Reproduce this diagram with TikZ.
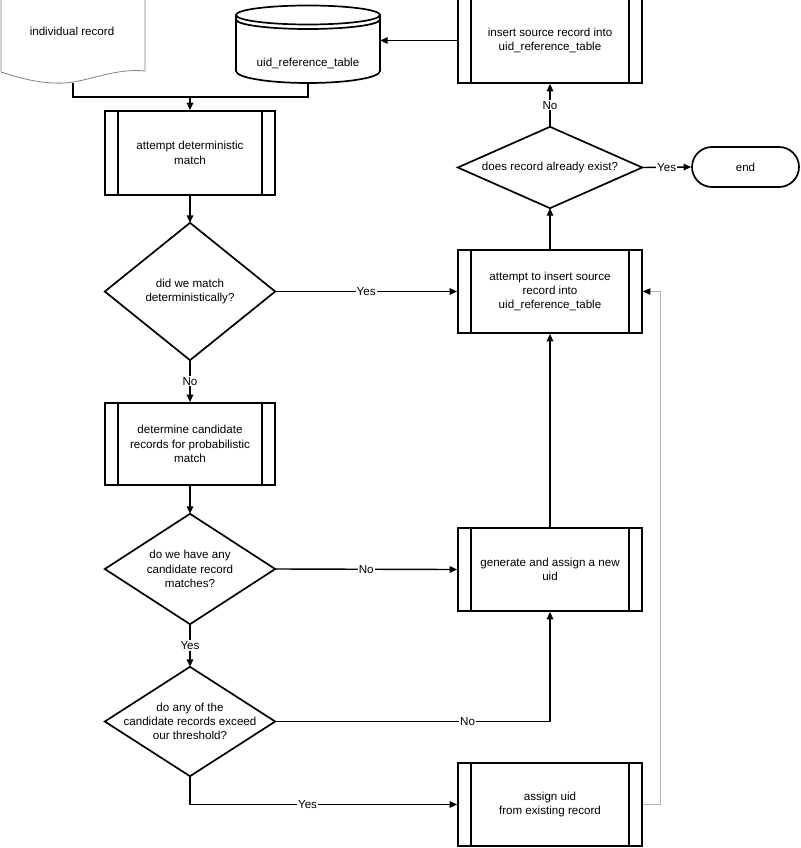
\documentclass[tikz,border=0pt]{standalone}
\usepackage{fontspec}
\setmainfont{Liberation Sans}
\usetikzlibrary{arrows.meta}
\begin{document}
\begin{tikzpicture}[x=1pt,y=-1pt,
  txt/.style={font=\fontsize{11.6}{14.3}\selectfont, align=center},
  shp/.style={line width=1.7pt},
  proc/.style={txt, draw, line width=1.7pt, rectangle, inner sep=0pt,
    minimum width=#1, minimum height=83pt,
    path picture={
      \draw[line width=1.6pt] ([xshift=13pt]path picture bounding box.south west) -- ([xshift=13pt]path picture bounding box.north west);
      \draw[line width=1.6pt] ([xshift=-13pt]path picture bounding box.south east) -- ([xshift=-13pt]path picture bounding box.north east);}},
  dia/.style 2 args={txt, rectangle, inner sep=0pt, minimum width=#1, minimum height=#2},
  arr/.style={line width=1.4pt, -{Triangle[length=7.5pt,width=6.5pt]}},
  lnk/.style={line width=1.4pt},
  lab/.style={txt, fill=white, inner sep=1pt}
]
\useasboundingbox (0,0) rectangle (800,848);
\clip (0,0) rectangle (800,848);

% document shape
\draw[gray, line width=0.8pt] (1,-5) -- (1,72) .. controls (25,80) and (45,84) .. (65,83) .. controls (90,81) and (115,68) .. (145,71) -- (145,-5);
\node[txt] (doc) at (72,31) {individual record};
\coordinate (docb) at (73,82.6);

% cylinder
\node[rectangle, inner sep=0pt, minimum width=144pt, minimum height=78pt] (cyl) at (308,44) {};
\draw[shp] (236,15) -- (236,71) arc[start angle=180, end angle=0, x radius=72, y radius=12] -- (380,15);
\draw[shp] (308,15) ellipse [x radius=72, y radius=9.5];
\draw[shp] (236,19.5) arc[start angle=180, end angle=0, x radius=72, y radius=9.5];
\node[txt] (cyltxt) at (308,63) {uid\_reference\_table};

% left column
\node[proc=170pt, minimum height=84pt] (b1) at (190,153) {attempt deterministic\\match};
\node[dia={170pt}{137pt}] (d1) at (190,291.5) {did we match\\deterministically?};
\node[proc=170pt, minimum height=82pt] (b2) at (190,444) {determine candidate\\records for probabilistic\\match};
\node[dia={170pt}{110pt}] (d2) at (190,569) {do we have any\\candidate record\\matches?};
\node[dia={170pt}{109pt}] (d3) at (190,721.5) {do any of the\\candidate records exceed\\our threshold?};

% right column
\node[proc=184pt, minimum height=85pt] (ins) at (550,40.5) {insert source record into\\uid\_reference\_table};
\node[dia={184pt}{81pt}] (d4) at (550,167.5) {does record already exist?};
\node[proc=184pt] (att) at (550,291.5) {attempt to insert source\\record into\\uid\_reference\_table};
\node[proc=184pt] (gen) at (550,569.5) {generate and assign a new\\uid};
\node[proc=184pt] (asg) at (550,804.5) {assign uid\\from existing record};
\node[txt, draw, shp, rounded corners=20pt, inner sep=0pt, minimum width=107pt, minimum height=40pt] (fin) at (745.5,167) {end};

% diamonds outlines
\foreach \d in {d1,d2,d3,d4}
  \draw[shp] (\d.north) -- (\d.east) -- (\d.south) -- (\d.west) -- cycle;

% connectors
\coordinate (mrg) at (190,97);
\draw[lnk] (docb) |- (mrg) -| (cyl.south);
\draw[arr] (mrg) -- (b1.north);
\draw[arr] (ins.west) -- (ins.west -| cyl.east);
\draw[arr] (d4.north) -- node[lab]{No} (ins.south);
\draw[arr] (d4.east) -- node[lab]{Yes} (fin.west);
\draw[arr] (att.north) -- (d4.south);
\draw[arr] (b1.south) -- (d1.north);
\draw[arr] (d1.east) -- node[lab]{Yes} (att.west);
\draw[arr] (d1.south) -- node[lab]{No} (b2.north);
\draw[arr] (b2.south) -- (d2.north);
\draw[arr] (d2.east) -- node[lab]{No} (gen.west);
\draw[arr] (d2.south) -- node[lab]{Yes} (d3.north);
\draw[arr] (d3.east) -| node[lab, pos=0.35]{No} (gen.south);
\draw[arr] (d3.south) |- node[lab, pos=0.72]{Yes} (asg.west);
\draw[arr] (gen.north) -- (att.south);
\draw[gray!60, line width=0.9pt, -{Triangle[length=7.5pt,width=6.5pt,color=black]}] (asg.east) -- ([xshift=18pt]asg.east) |- (att.east);
\end{tikzpicture}
\end{document}
